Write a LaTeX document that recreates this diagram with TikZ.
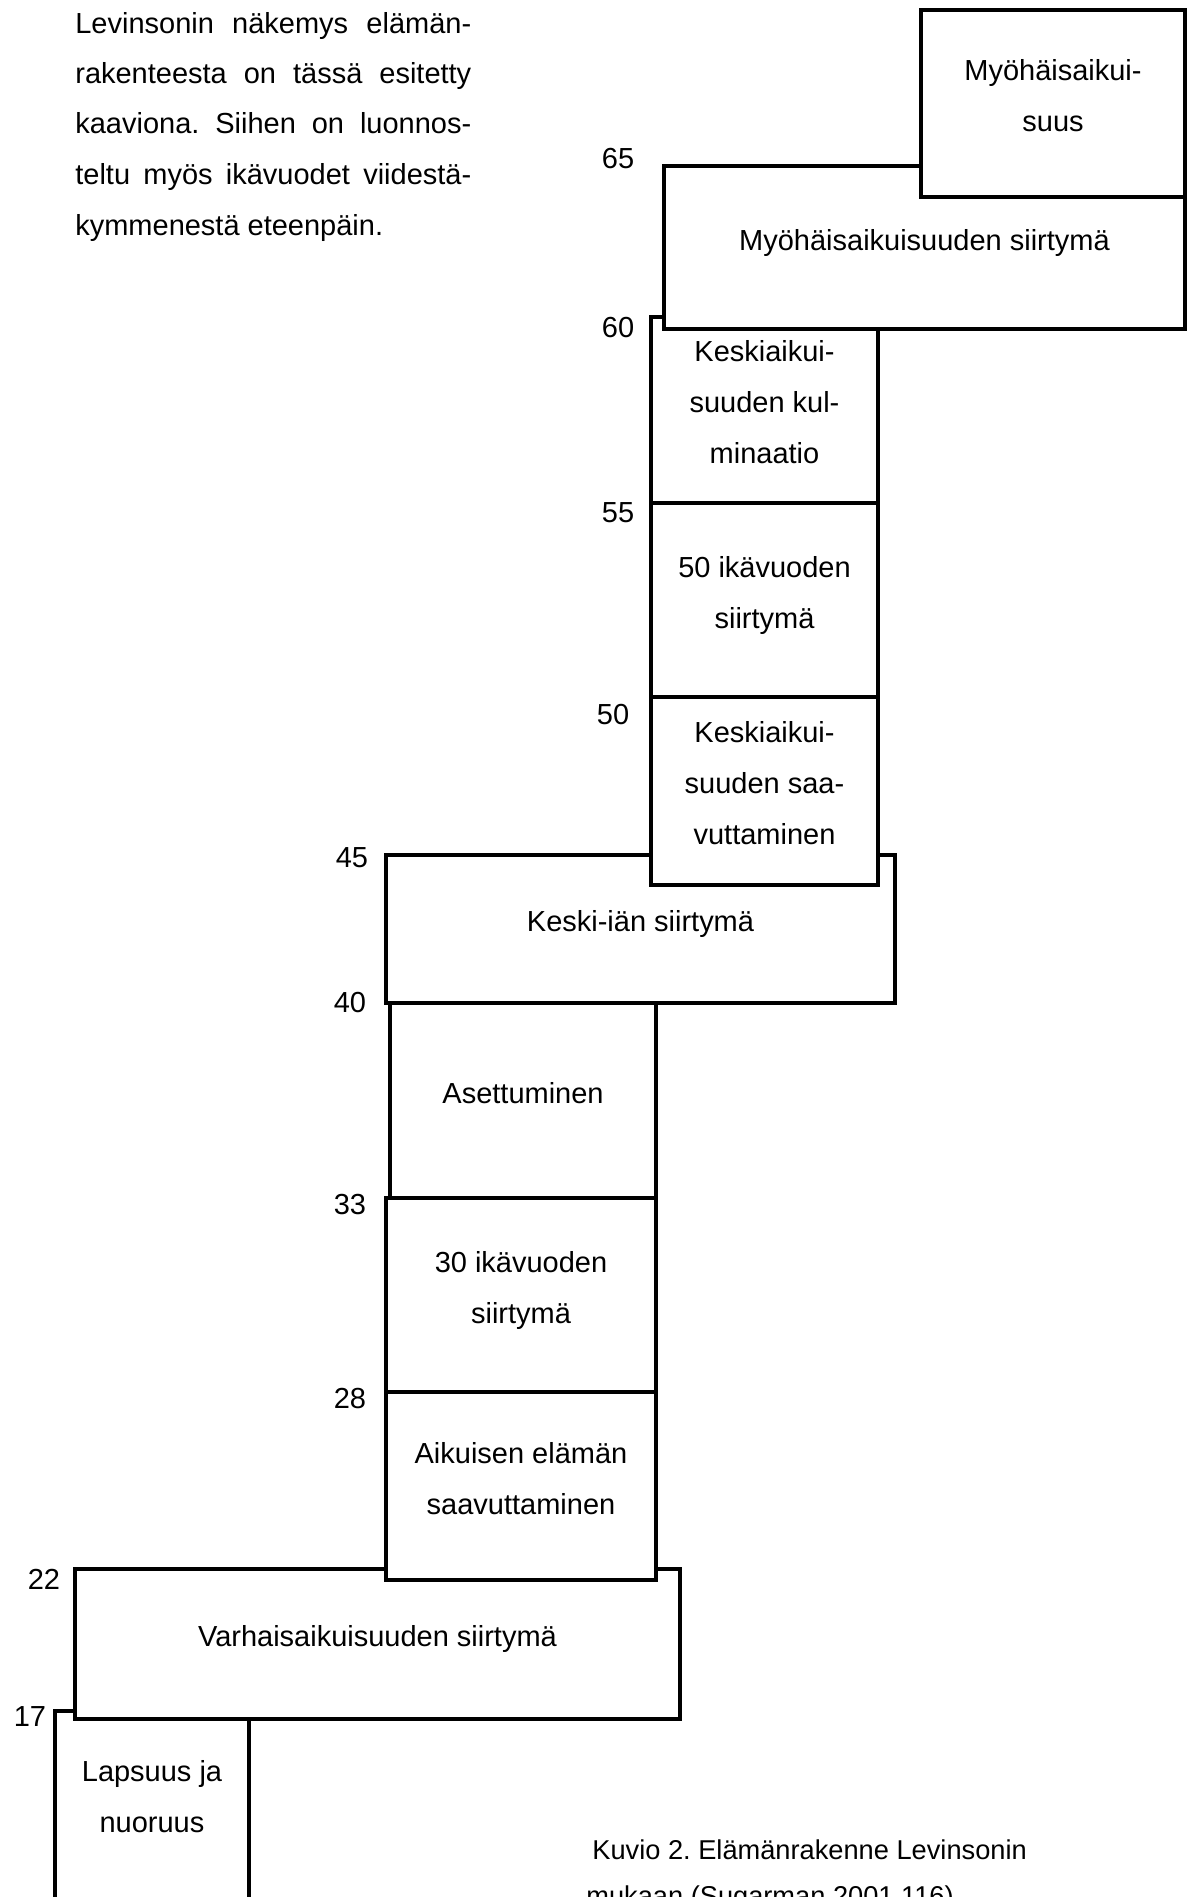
\documentclass[tikz,border=0pt]{standalone}
\usepackage{fontspec}
\setmainfont{Liberation Sans}
\frenchspacing
\newcommand{\boxfont}{\fontsize{16.5}{29}\selectfont}
\newcommand{\capfont}{\fontsize{15.5}{27}\selectfont}
\tikzset{
    stage/.style 2 args={draw, fill=white, line width=2.2pt, align=center, inner sep=0pt,
                         text depth=9pt, font=\boxfont,
                         minimum width=#1*0.02cm, minimum height=#2*0.02cm},
    age/.style={font=\boxfont, inner sep=0pt},
    textline/.style={font=\boxfont, inner sep=0pt, anchor=base west}
}

\begin{document}
\begin{tikzpicture}[x=0.02cm, y=-0.02cm]
    \useasboundingbox (0,0) rectangle (1187,1897);

    % Intro text
    \node[textline] (par1) at (75,33)  {\makebox[7.92cm][s]{Levinsonin näkemys elämän-}};
    \node[textline] (par2) at (75,83)  {\makebox[7.92cm][s]{rakenteesta on tässä esitetty}};
    \node[textline] (par3) at (75,133) {\makebox[7.92cm][s]{kaaviona. Siihen on luonnos-}};
    \node[textline] (par4) at (75,184) {\makebox[7.92cm][s]{teltu myös ikävuodet viidestä-}};
    \node[textline] (par5) at (75,235) {kymmenestä eteenpäin.};

    % Stages, from youngest up
    \node[stage={194}{249}] (lapsuus) at (152,1835.5) {};
    \node[font=\boxfont, align=center] (lapsuusteksti) at (152,1797) {Lapsuus ja\\nuoruus};
    \node[stage={605}{150}] (varhais) at (377.5,1644) {Varhaisaikuisuuden siirtymä};
    \node[stage={270}{188}] (aikuinen) at (521,1486) {Aikuisen elämän\\saavuttaminen};
    \node[stage={270}{194}] (kolmekymmen) at (521,1295) {30 ikävuoden\\siirtymä};
    \node[stage={266}{195}] (asettuminen) at (523,1100.5) {Asettuminen};
    \node[stage={509}{148}] (keskiika) at (640.5,929) {Keski-iän siirtymä};
    \node[stage={227}{188}] (saavutus) at (764.5,791) {Keskiaikui-\\suuden saa-\\vuttaminen};
    \node[stage={227}{194}] (viisikymmen) at (764.5,600) {50 ikävuoden\\siirtymä};
    \node[stage={227}{186}] (kulminaatio) at (764.5,410) {Keskiaikui-\\suuden kul-\\minaatio};
    \node[stage={521}{163}] (myohsiirtyma) at (924.5,247.5) {Myöhäisaikuisuuden siirtymä};
    \node[stage={264}{187}] (myohaikuisuus) at (1053,103.5) {Myöhäisaikui-\\suus};

    % Ages
    \node[age] (a17) at (30,1717) {17};
    \node[age] (a22) at (44,1579) {22};
    \node[age] (a28) at (350,1399) {28};
    \node[age] (a33) at (350,1205) {33};
    \node[age] (a40) at (350,1003) {40};
    \node[age] (a45) at (352,858) {45};
    \node[age] (a50) at (613,715) {50};
    \node[age] (a55) at (618,513) {55};
    \node[age] (a60) at (618,328) {60};
    \node[age] (a65) at (618,159) {65};

    % Caption
    \node[textline, font=\capfont] (kuvio1) at (592,1859) {Kuvio 2. Elämänrakenne Levinsonin};
    \node[textline, font=\capfont] (kuvio2) at (586,1905) {mukaan (Sugarman 2001,116).};
\end{tikzpicture}
\end{document}
